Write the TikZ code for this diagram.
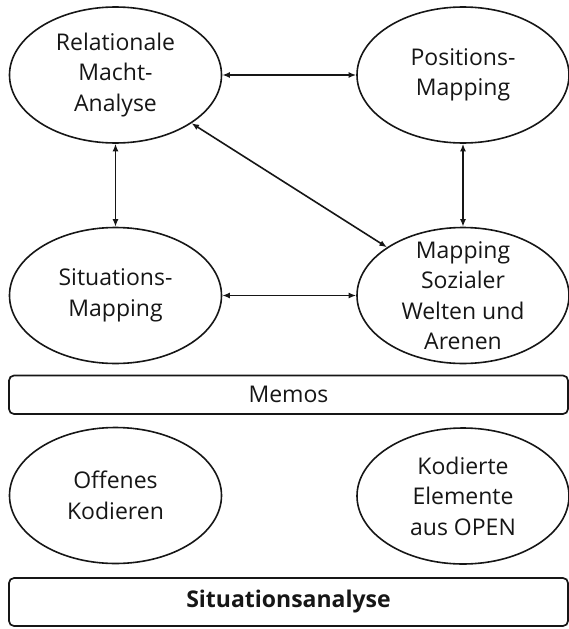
\documentclass[tikz,border=0pt]{standalone}
\usepackage{fontspec}
\setmainfont{Open Sans}
\usetikzlibrary{shapes.geometric,arrows.meta}
\definecolor{ink}{HTML}{161616}
\begin{document}
\begin{tikzpicture}[x=1pt,y=-1pt,
  bubble/.style={draw=ink,line width=1.6pt,ellipse,minimum width=212pt,minimum height=136pt,inner sep=0pt},
  caption/.style={align=center,text=ink,font=\fontsize{23}{30.5}\selectfont},
  bar/.style={draw=ink,line width=1.7pt,rounded corners=5pt},
  link/.style={draw=ink,line width=1.6pt,{Latex[length=7.5pt,width=6pt]}-{Latex[length=7.5pt,width=6pt]}}]
\useasboundingbox (0,0) rectangle (569,629);

% ellipses of the upper group
\node[bubble] (rel) at (115.5,75) {};
\node[bubble] (pos) at (463,75) {};
\node[bubble] (sit) at (115.5,295.5) {};
\node[bubble] (map) at (463,295.5) {};
\node[caption] (relT) at (rel) {Relationale\\Macht-\\Analyse};
\node[caption] (posT) at (pos) {Positions-\\Mapping};
\node[caption] (sitT) at (sit) {Situations-\\Mapping};
\node[caption] (mapT) at (map) {Mapping\\Sozialer\\Welten und\\Arenen};

% two-headed links
\draw[link] (rel.east) -- (pos.west);
\draw[link] (rel.south) -- (sit.north);
\draw[link] (pos.south) -- (map.north);
\draw[link] (sit.east) -- (map.west);
\draw[link] (rel) -- (map);

% memo bar
\draw[bar] (9,375.5) rectangle (568,414) node[midway,caption] (memos) {Memos};

% lower ellipses
\node[bubble] (off) at (115.5,495.5) {};
\node[bubble] (kod) at (463,496) {};
\node[caption] (offT) at (off) {Offenes\\Kodieren};
\node[caption] (kodT) at (kod) {Kodierte\\Elemente\\aus OPEN};

% base bar
\draw[bar] (9,578) rectangle (568,626) node[midway,caption,font=\fontsize{23}{30.5}\selectfont\bfseries] (sa) {Situationsanalyse};
\end{tikzpicture}
\end{document}
